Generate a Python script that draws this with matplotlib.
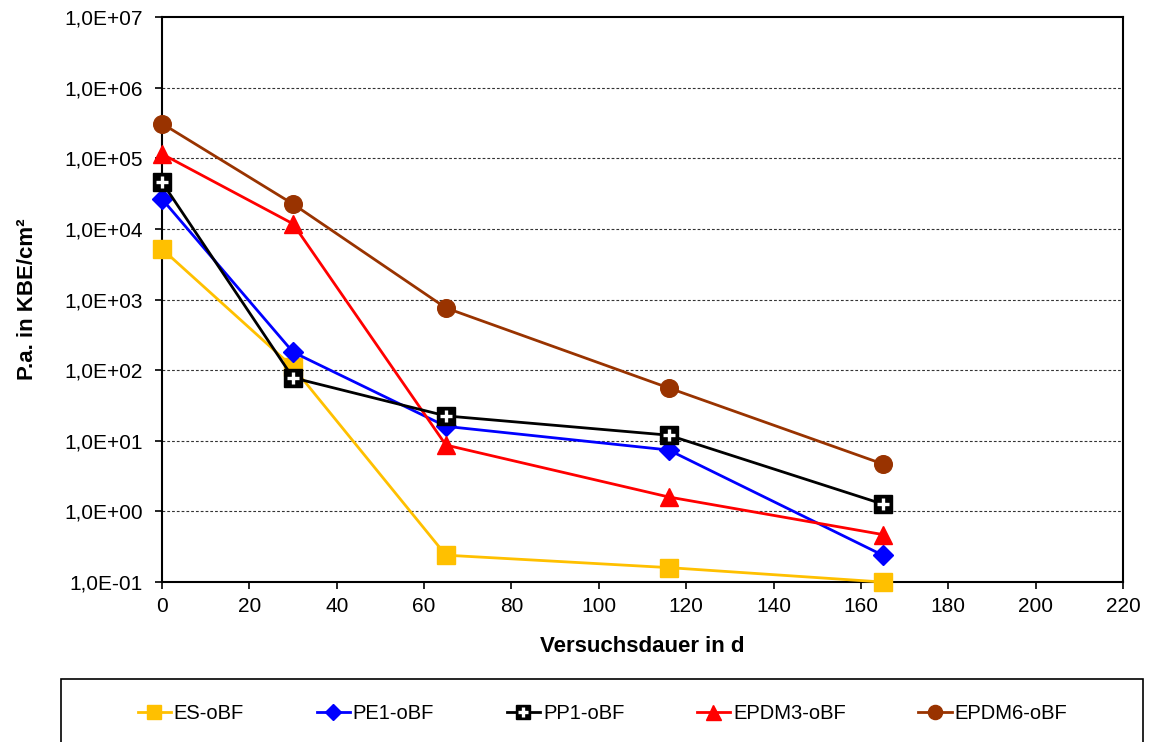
import numpy as np
import matplotlib.pyplot as plt
from matplotlib.ticker import FuncFormatter, FixedLocator, NullLocator
from matplotlib.patches import Rectangle
from matplotlib.legend_handler import HandlerTuple

plt.rcParams['font.family'] = ['Liberation Sans', 'DejaVu Sans']

# --- data: Pseudomonas aeruginosa counts over test duration ---
days = [0, 30, 65, 116, 165]
es_obf = [5200, 110, 0.24, 0.16, 0.1]
pe1_obf = [26500, 180, 16, 7.4, 0.24]
pp1_obf = [46000, 78, 22.5, 12, 1.27]
epdm3_obf = [115000, 11800, 8.7, 1.6, 0.47]
epdm6_obf = [310000, 22500, 760, 56, 4.7]

series_names = ['ES-oBF', 'PE1-oBF', 'PP1-oBF', 'EPDM3-oBF', 'EPDM6-oBF']

fig = plt.figure(figsize=(11.52, 7.42), dpi=100)
ax = fig.add_axes([0.1406, 0.2156, 0.8342, 0.7615])

lw = 2.0
h_es, = ax.plot(days, es_obf, color='#FFC000', lw=lw, marker='s', ms=12.5, mec='#FFC000', zorder=3)
h_pe, = ax.plot(days, pe1_obf, color='#0000FF', lw=lw, marker='D', ms=10, zorder=4)
h_pp, = ax.plot(days, pp1_obf, color='black', lw=lw, marker='s', ms=12.5, zorder=5)
h_pp_plus, = ax.plot(days, pp1_obf, ls='none', marker='+', ms=9, mew=2.4, color='white', zorder=6)
h_e3, = ax.plot(days, epdm3_obf, color='#FF0000', lw=lw, marker='^', ms=13.5, zorder=4)
h_e6, = ax.plot(days, epdm6_obf, color='#993300', lw=lw, marker='o', ms=12.7, zorder=4)

ax.set_yscale('log')
ax.set_ylim(1e-1, 1e7)
ax.set_xlim(0, 220)
ax.xaxis.set_major_locator(FixedLocator(np.arange(0, 221, 20)))
ax.yaxis.set_major_locator(FixedLocator([10.0 ** k for k in range(-1, 8)]))
ax.yaxis.set_minor_locator(NullLocator())
ax.yaxis.set_major_formatter(FuncFormatter(lambda v, p: f"{v:.1E}".replace('.', ',')))

for k in range(0, 7):
    ax.axhline(10.0 ** k, color='#333333', ls=(0, (2.5, 1.8)), lw=0.8, zorder=1)

for s in ax.spines.values():
    s.set_linewidth(1.5)
ax.tick_params(axis='both', labelsize=15, length=5, width=1.2, direction='out')
ax.tick_params(axis='y', pad=9)
ax.tick_params(axis='x', pad=6)
for line in ax.get_lines():
    line.set_clip_on(False)

ax.set_xlabel('Versuchsdauer in d', fontsize=16, fontweight='bold', labelpad=14)
ax.set_ylabel('P.a. in KBE/cm²', fontsize=16, fontweight='bold', labelpad=19)

# legend box along the bottom
fig.patches.append(Rectangle((0.053, -0.05), 0.939, 0.135, transform=fig.transFigure,
                             fill=False, edgecolor='black', lw=1.2))
fig.legend([h_es, h_pe, (h_pp, h_pp_plus), h_e3, h_e6], series_names,
           loc='center', bbox_to_anchor=(0.523, 0.039), ncol=5, frameon=False,
           fontsize=14.5, columnspacing=3.6, handlelength=1.65, handletextpad=0.15,
           markerscale=0.8,
           handler_map={tuple: HandlerTuple(ndivide=1, pad=0)})

fig.savefig('out.png', dpi=100)
